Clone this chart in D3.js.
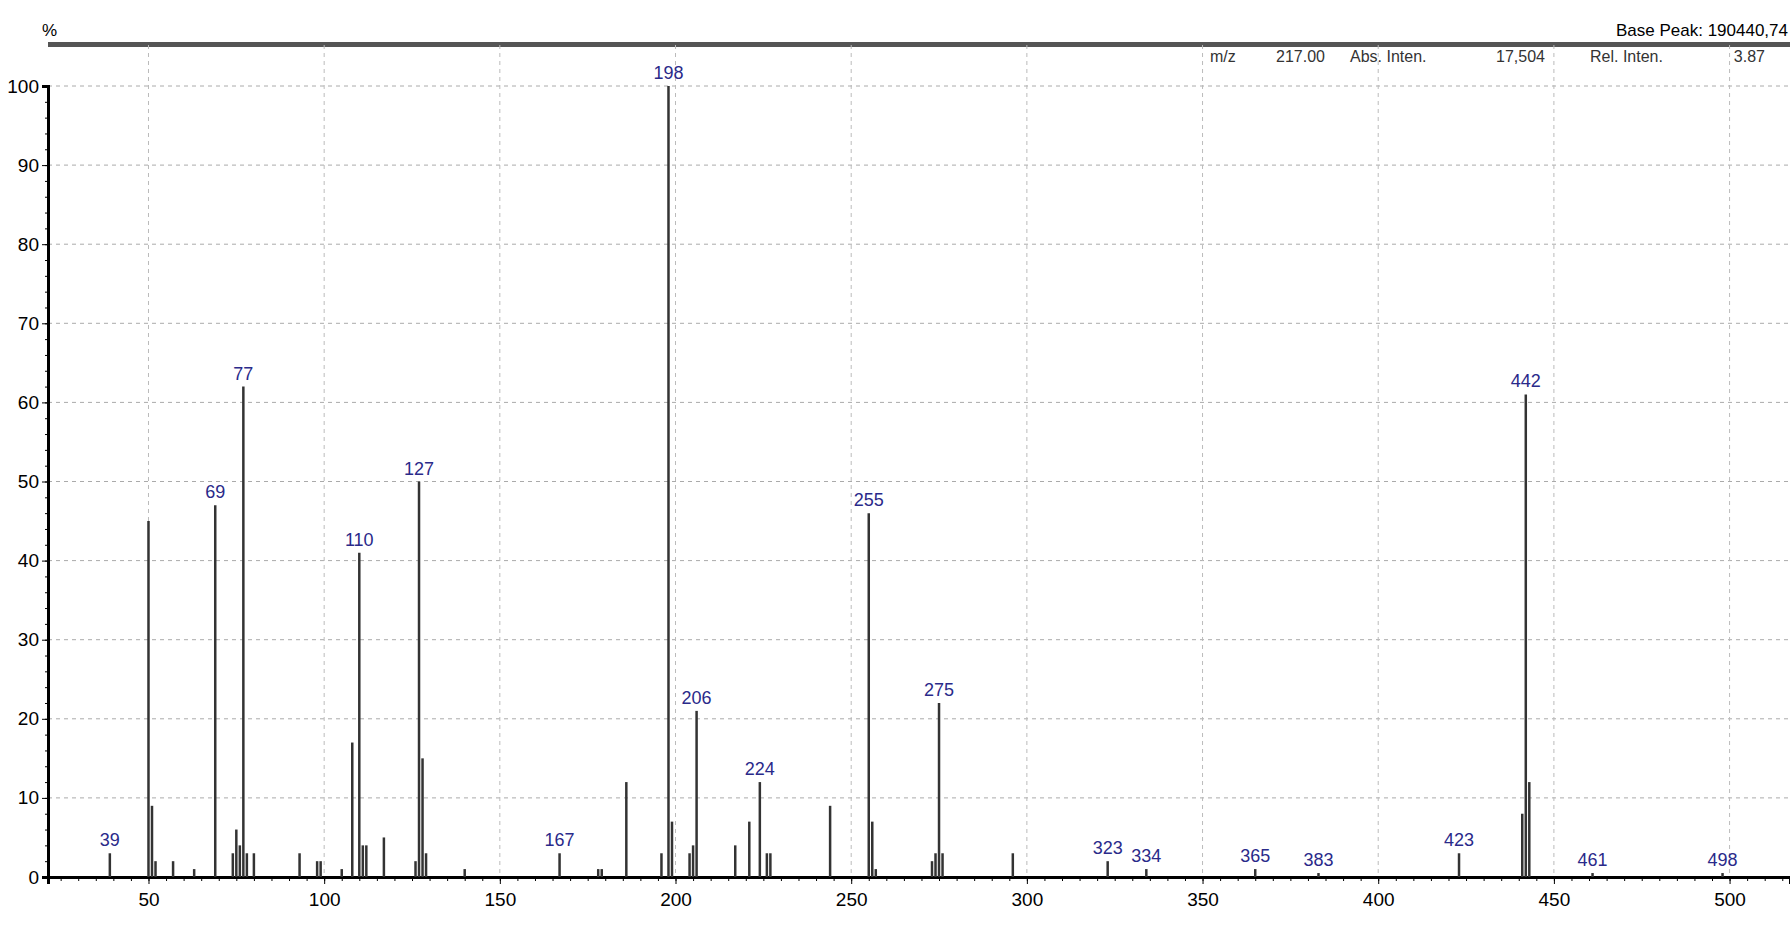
<html>
<head>
<script src="https://cdn.jsdelivr.net/npm/d3@7"></script>
<style>
  body { margin: 0; background: #fff; }
  text { font-family: "Liberation Sans Narrow", "Liberation Sans", Arial, sans-serif; }
</style>
</head>
<body>
<svg id="chart" width="1790" height="927"></svg>
<script>
// peaks: m/z and relative intensity (%)
var mz =   [39,50,51,52,57,63,69,74,75,76,77,78,80,93,98,99,105,108,110,111,112,117,126,127,128,129,140,167,178,179,186,196,198,199,204,205,206,217,221,224,226,227,244,255,256,257,273,274,275,276,296,323,334,365,383,423,441,442,443,461,498];
var inten = [3,45,9,2,2,1,47,3,6,4,62,3,3,3,2,2,1,17,41,4,4,5,2,50,15,3,1,3,1,1,12,3,100,7,3,4,21,4,7,12,3,3,9,46,7,1,2,3,22,3,3,2,1,1,0.5,3,8,61,12,0.5,0.5];
var labeled = [39,69,77,110,127,167,198,206,224,255,275,323,334,365,383,423,442,461,498];
var xTicks = [50,100,150,200,250,300,350,400,450,500];
var yTicks = [0,10,20,30,40,50,60,70,80,90,100];

var svg = d3.select("#chart");
var mLeft = 48, mRight = 1790, mTop = 45, mBottom = 877;
var x = d3.scaleLinear().domain([21.4, 517.2]).range([mLeft, mRight]);
var y = d3.scaleLinear().domain([0, 100]).range([mBottom, 86]);

// header
svg.append("rect").attr("x", mLeft).attr("y", mTop - 3).attr("width", mRight - mLeft).attr("height", 5).attr("fill", "#555");
svg.append("text").attr("x", 1788).attr("y", 36).attr("text-anchor", "end").attr("font-size", 17).text("Base Peak: 190440,74");
svg.append("text").attr("x", 42).attr("y", 36).attr("font-size", 17).text("%");
var hdr = [["m/z", 1210, "start"], ["217.00", 1325, "end"], ["Abs. Inten.", 1350, "start"], ["17,504", 1545, "end"], ["Rel. Inten.", 1590, "start"], ["3.87", 1765, "end"]];
hdr.forEach(function(h) {
  svg.append("text").attr("x", h[1]).attr("y", 62).attr("font-size", 16).attr("fill", "#333")
    .attr("text-anchor", h[2]).text(h[0]);
});

// grid
svg.selectAll(".gy").data(yTicks.slice(1)).enter().append("line")
  .attr("x1", mLeft).attr("x2", mRight).attr("y1", d => y(d)).attr("y2", d => y(d))
  .attr("stroke", "#aaa").attr("stroke-dasharray", "4,4");
svg.selectAll(".gx").data(xTicks).enter().append("line")
  .attr("x1", d => x(d)).attr("x2", d => x(d)).attr("y1", mTop).attr("y2", mBottom)
  .attr("stroke", "#bbb").attr("stroke-dasharray", "4,4");

// axes
svg.append("g").attr("transform", "translate(" + mLeft + ",0)")
  .call(d3.axisLeft(y).tickValues(yTicks).tickSize(6).tickFormat(d3.format("d")));
svg.append("g").attr("transform", "translate(" + mLeft + ",0)")
  .call(d3.axisLeft(y).tickValues(d3.range(0, 101, 2)).tickSize(3).tickFormat(""));
var xAxis = svg.append("g").attr("transform", "translate(0," + mBottom + ")")
  .call(d3.axisBottom(x).tickValues(xTicks).tickSize(7));
svg.append("g").attr("transform", "translate(0," + mBottom + ")")
  .call(d3.axisBottom(x).tickValues(d3.range(25, 518, 5)).tickSize(4).tickFormat(""));
svg.selectAll(".domain").attr("stroke", "#000").attr("stroke-width", 3);
svg.selectAll(".tick text").attr("font-size", 19);
xAxis.selectAll(".tick text").attr("dy", "1em");

// peaks
svg.selectAll(".pk").data(mz).enter().append("line")
  .attr("x1", d => x(d)).attr("x2", d => x(d))
  .attr("y1", mBottom).attr("y2", (d, i) => y(inten[i]))
  .attr("stroke", "#333").attr("stroke-width", 2.5);

// labels
svg.selectAll(".lb").data(labeled).enter().append("text")
  .attr("x", d => x(d)).attr("y", d => y(inten[mz.indexOf(d)]) - 7)
  .attr("text-anchor", "middle").attr("font-size", 18).attr("fill", "#2a2a8a")
  .text(d => d);
</script>
</body>
</html>
